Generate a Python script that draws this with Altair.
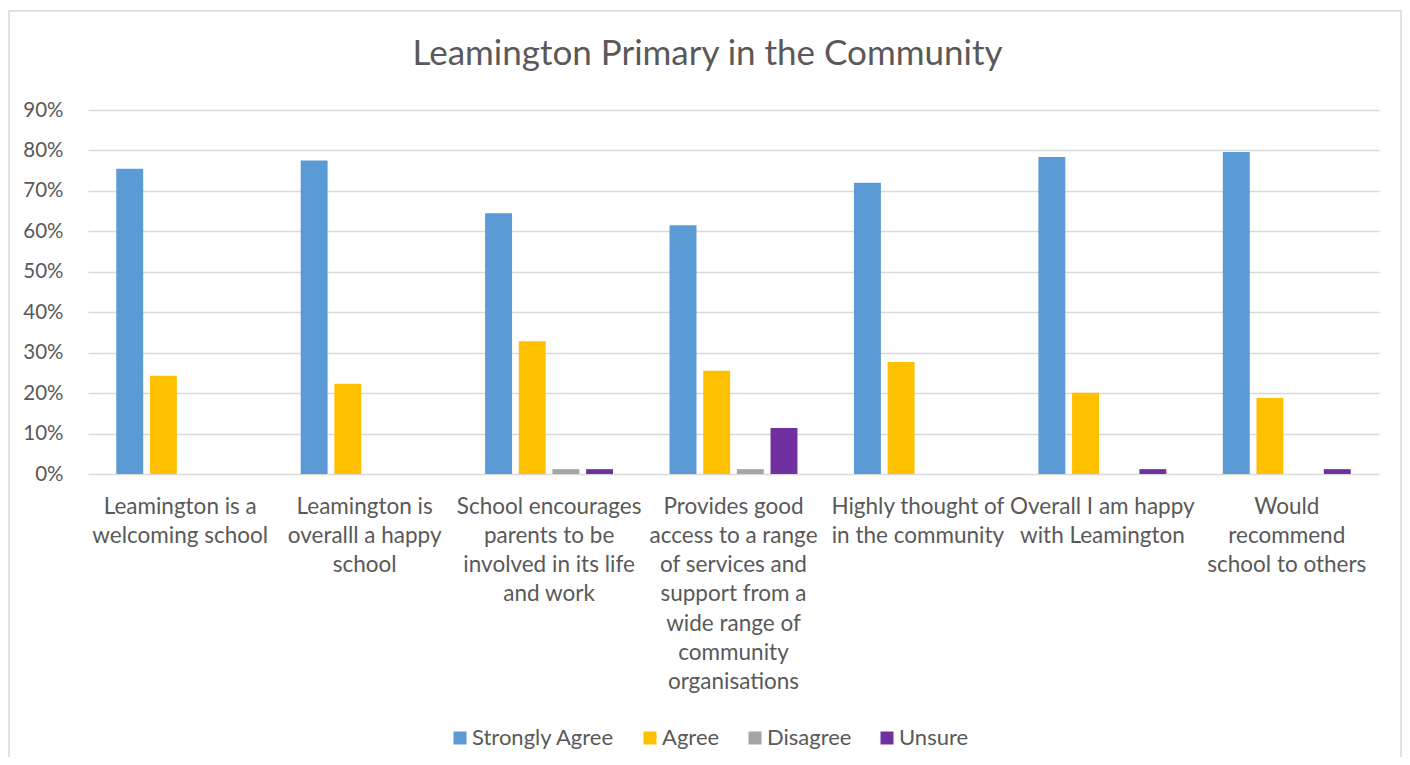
import altair as alt
import pandas as pd

categories = [
    "Leamington is a welcoming school",
    "Leamington is overalll a happy school",
    "School encourages parents to be involved in its life and work",
    "Provides good access to a range of services and support from a wide range of community organisations",
    "Highly thought of in the community",
    "Overall I am happy with Leamington",
    "Would recommend school to others",
]
label_lines = [
    ["Leamington is a", "welcoming school"],
    ["Leamington is", "overalll a happy", "school"],
    ["School encourages", "parents to be", "involved in its life", "and work"],
    ["Provides good", "access to a range", "of services and", "support from a", "wide range of", "community", "organisations"],
    ["Highly thought of", "in the community"],
    ["Overall I am happy", "with Leamington"],
    ["Would", "recommend", "school to others"],
]
series = ["Strongly Agree", "Agree", "Disagree", "Unsure"]
colors = ["#5B9BD5", "#FFC000", "#A5A5A5", "#7030A0"]
strongly_agree = [0.755, 0.775, 0.645, 0.615, 0.720, 0.784, 0.796]
agree = [0.243, 0.223, 0.328, 0.255, 0.277, 0.201, 0.188]
disagree = [0.0, 0.0, 0.012, 0.012, 0.0, 0.0, 0.0]
unsure = [0.0, 0.0, 0.012, 0.114, 0.0, 0.012, 0.012]

rows = []
for s, vals in zip(series, [strongly_agree, agree, disagree, unsure]):
    for c, v in zip(categories, vals):
        if v > 0:
            rows.append({"category": c, "series": s, "value": v})
df = pd.DataFrame(rows)

label_map = {c: l for c, l in zip(categories, label_lines)}
label_expr = "{" + ",".join(
    '"' + c + '":[' + ",".join('"' + x + '"' for x in l) + "]" for c, l in label_map.items()
) + "}[datum.label]"

TEXT = "#595959"
GRID = "#D9D9D9"
FONT = "Lato"

bars = alt.Chart(df).mark_bar().encode(
    x=alt.X(
        "category:N",
        sort=categories,
        scale=alt.Scale(paddingInner=0.27, paddingOuter=0.135),
        axis=alt.Axis(
            title=None,
            labelAngle=0,
            labelExpr=label_expr,
            labelFontSize=22.5,
            labelFont=FONT,
            labelColor=TEXT,
            labelLineHeight=29.3,
            labelPadding=21,
            labelBaseline="top",
            ticks=False,
            domain=False,
            grid=False,
            labelLimit=0,
        ),
    ),
    xOffset=alt.XOffset(
        "series:N",
        sort=series,
        scale=alt.Scale(domain=series, paddingInner=0.2, paddingOuter=0.1),
    ),
    y=alt.Y(
        "value:Q",
        scale=alt.Scale(domain=[0, 0.9], nice=False),
        axis=alt.Axis(
            title=None,
            format=".0%",
            values=[0, 0.1, 0.2, 0.3, 0.4, 0.5, 0.6, 0.7, 0.8, 0.9],
            labelFontSize=20.5,
            labelFont=FONT,
            labelColor=TEXT,
            labelPadding=25,
            ticks=False,
            domain=False,
            grid=True,
            gridColor=GRID,
            gridWidth=1.4,
        ),
    ),
    color=alt.Color(
        "series:N",
        sort=series,
        scale=alt.Scale(domain=series, range=colors),
        legend=alt.Legend(
            title=None,
            orient="none",
            direction="horizontal",
            legendX=361,
            legendY=617,
            symbolType="square",
            symbolSize=169,
            symbolStrokeWidth=0,
            labelFontSize=22,
            labelFont=FONT,
            labelColor=TEXT,
            labelOffset=1,
            columnPadding=24,
        ),
    ),
)

frame = alt.Chart(alt.Data(values=[{}])).mark_rect(
    filled=False, stroke=GRID, strokeWidth=1.5
).encode(
    x=alt.value(-79), x2=alt.value(1313), y=alt.value(-99), y2=alt.value(700)
)

chart = alt.layer(frame, bars).properties(
    width=1291,
    height=364,
    autosize=alt.AutoSizeParams(type="none"),
    padding={"left": 80, "top": 102, "right": 23, "bottom": 283},
    title=alt.Title(
        "Leamington Primary in the Community",
        fontSize=35,
        font=FONT,
        fontWeight="normal",
        color=TEXT,
        anchor="middle",
        frame="group",
        dx=-26,
        offset=-90,
        baseline="alphabetic",
    ),
).configure(background="white").configure_view(strokeOpacity=0, strokeWidth=0)

chart.save("out.html", embed_options={"renderer": "svg", "actions": False})
